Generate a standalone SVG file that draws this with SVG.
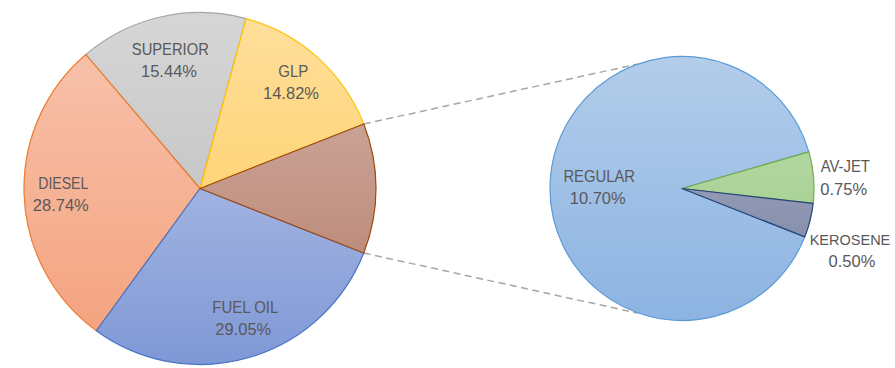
<svg xmlns="http://www.w3.org/2000/svg" width="895" height="368" viewBox="0 0 895 368">
<defs>
<linearGradient id="gSup" gradientUnits="userSpaceOnUse" x1="0" y1="12" x2="0" y2="365"><stop offset="0" stop-color="#d6d6d6"/><stop offset="1" stop-color="#b9b9b9"/></linearGradient>
<linearGradient id="gGlp" gradientUnits="userSpaceOnUse" x1="0" y1="12" x2="0" y2="365"><stop offset="0" stop-color="#ffdf9c"/><stop offset="1" stop-color="#fdca55"/></linearGradient>
<linearGradient id="gOth" gradientUnits="userSpaceOnUse" x1="0" y1="12" x2="0" y2="365"><stop offset="0" stop-color="#d4b5ad"/><stop offset="1" stop-color="#b47a64"/></linearGradient>
<linearGradient id="gFuel" gradientUnits="userSpaceOnUse" x1="0" y1="12" x2="0" y2="365"><stop offset="0" stop-color="#c3cdeb"/><stop offset="1" stop-color="#7f98d6"/></linearGradient>
<linearGradient id="gDie" gradientUnits="userSpaceOnUse" x1="0" y1="12" x2="0" y2="365"><stop offset="0" stop-color="#f8c5b0"/><stop offset="1" stop-color="#f4a07b"/></linearGradient>
<linearGradient id="gReg" gradientUnits="userSpaceOnUse" x1="0" y1="56" x2="0" y2="321"><stop offset="0" stop-color="#b3cdea"/><stop offset="1" stop-color="#8cb3e2"/></linearGradient>
<linearGradient id="gAv" gradientUnits="userSpaceOnUse" x1="0" y1="56" x2="0" y2="321"><stop offset="0" stop-color="#c2dfb4"/><stop offset="1" stop-color="#97c77e"/></linearGradient>
<linearGradient id="gKer" gradientUnits="userSpaceOnUse" x1="0" y1="56" x2="0" y2="321"><stop offset="0" stop-color="#b0b6cc"/><stop offset="1" stop-color="#737d9d"/></linearGradient>
</defs>
<style>
.s{stroke-width:1.2;stroke-linejoin:round}
.lbl{font-family:"Liberation Sans",Arial,sans-serif;font-size:16.5px;fill:#595959;text-anchor:middle}
.dash{stroke:#a6a6a6;stroke-width:1.5;stroke-dasharray:7,4.5;fill:none}
</style>
<g id="connectors">
<line class="dash" x1="363.75" y1="124" x2="638" y2="64"/>
<line class="dash" x1="363.75" y1="253" x2="637" y2="313"/>
</g>
<g id="superior"><path class="s" fill="url(#gSup)" stroke="#a5a5a5" d="M200,188.5 L85.85,54.53 A176,176 0 0,1 245.97,18.61 Z"/>
<text class="lbl" x="170.3" y="55" textLength="77" lengthAdjust="spacingAndGlyphs">SUPERIOR</text>
<text class="lbl" x="169" y="77">15.44%</text></g>
<g id="glp"><path class="s" fill="url(#gGlp)" stroke="#ffc000" d="M200,188.5 L245.97,18.61 A176,176 0 0,1 363.75,123.98 Z"/>
<text class="lbl" x="293.3" y="76.5" textLength="30" lengthAdjust="spacingAndGlyphs">GLP</text>
<text class="lbl" x="291" y="99.3">14.82%</text></g>
<g id="diesel"><path class="s" fill="url(#gDie)" stroke="#ed7d31" d="M200,188.5 L96.32,330.73 A176,176 0 0,1 85.85,54.53 Z"/>
<text class="lbl" x="63.3" y="188.5" textLength="50" lengthAdjust="spacingAndGlyphs">DIESEL</text>
<text class="lbl" x="60.8" y="211">28.74%</text></g>
<g id="fueloil"><path class="s" fill="url(#gFuel)" stroke="#4472c4" d="M200,188.5 L363.75,253.02 A176,176 0 0,1 96.32,330.73 Z"/>
<text class="lbl" x="245.3" y="312.5" textLength="66" lengthAdjust="spacingAndGlyphs">FUEL OIL</text>
<text class="lbl" x="243.3" y="335">29.05%</text></g>
<g id="other"><path class="s" fill="url(#gOth)" stroke="#9e480e" d="M200,188.5 L363.75,123.98 A176,176 0 0,1 363.75,253.02 Z"/></g>
<g id="regular"><path class="s" fill="url(#gReg)" stroke="#5b9bd5" d="M682,188.5 L804.81,236.88 A132,132 0 1,1 808.83,151.9 Z"/>
<text class="lbl" x="599.2" y="182" textLength="71.5" lengthAdjust="spacingAndGlyphs">REGULAR</text>
<text class="lbl" x="597.7" y="204.3">10.70%</text></g>
<g id="avjet"><path class="s" fill="url(#gAv)" stroke="#70ad47" d="M682,188.5 L808.83,151.9 A132,132 0 0,1 813.15,203.44 Z"/>
<text class="lbl" x="845.3" y="172" textLength="49.3" lengthAdjust="spacingAndGlyphs">AV-JET</text>
<text class="lbl" x="843.7" y="194.5">0.75%</text></g>
<g id="kerosene"><path class="s" fill="url(#gKer)" stroke="#264478" d="M682,188.5 L813.15,203.44 A132,132 0 0,1 804.81,236.88 Z"/>
<text class="lbl" x="850" y="244.5" style="font-size:14.5px">KEROSENE</text>
<text class="lbl" x="852" y="267">0.50%</text></g>
</svg>
